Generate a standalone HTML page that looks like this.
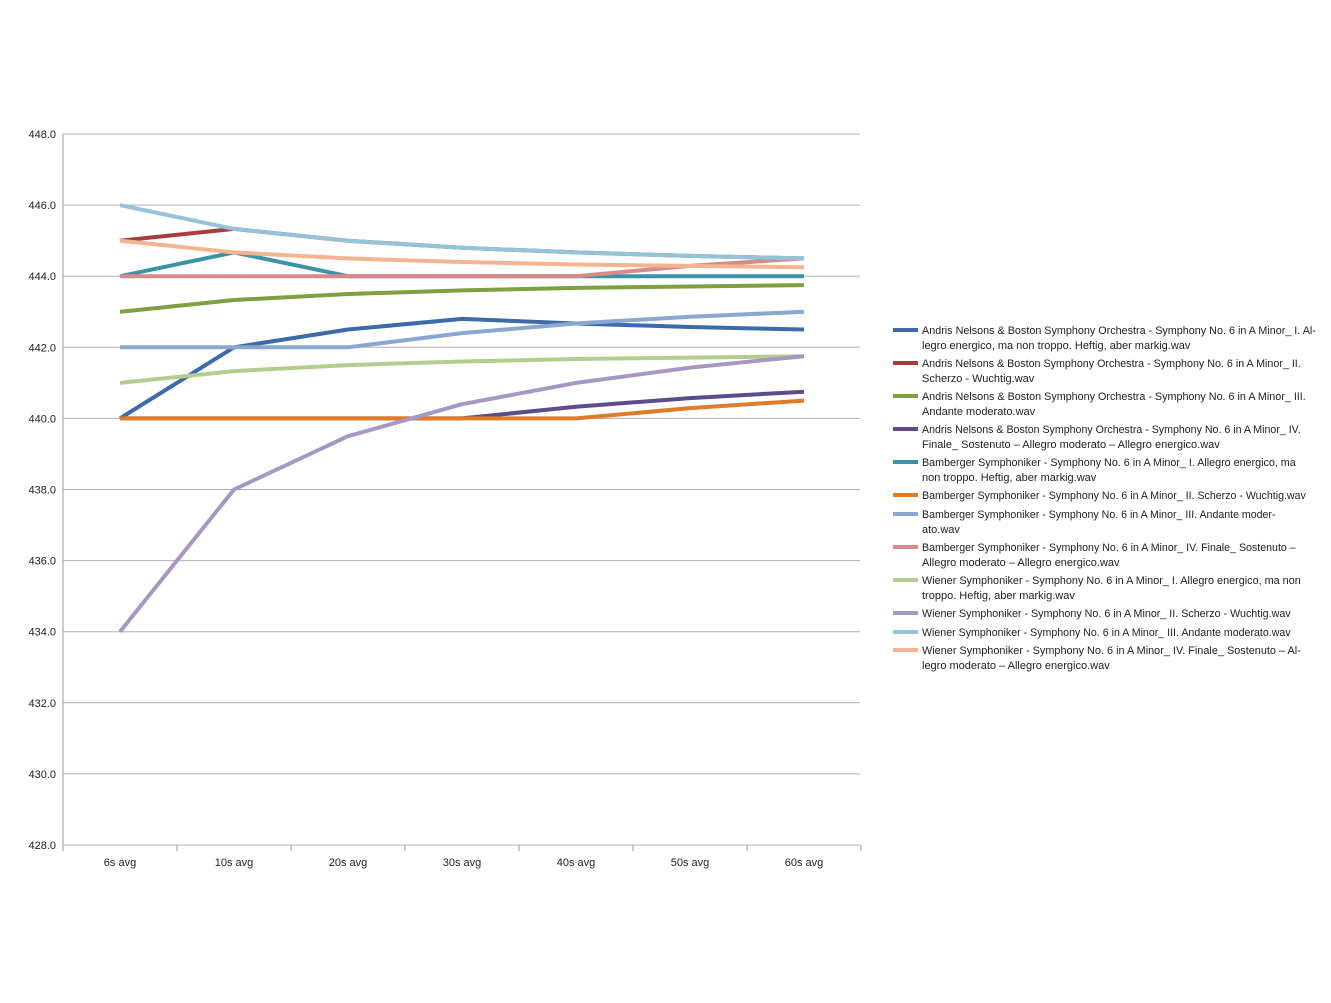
<!DOCTYPE html>
<html><head><meta charset="utf-8"><style>
html,body{margin:0;padding:0;background:#fff;}
svg text{font-family:"Liberation Sans Narrow","Liberation Sans",sans-serif;fill:#222;}
</style></head><body>
<svg id="c" width="1331" height="998" xmlns="http://www.w3.org/2000/svg">
<rect width="1331" height="998" fill="#fff"/>
</svg>
<script>
const svg=document.getElementById('c');const NS='http://www.w3.org/2000/svg';
function el(t,a,txt){const e=document.createElementNS(NS,t);for(const k in a)e.setAttribute(k,a[k]);if(txt!==undefined)e.textContent=txt;svg.appendChild(e);return e;}
const Y=v=>845-(v-428)*35.55;
const X=[120,234,348,462,576,690,804];
for(let v=428;v<=448;v+=2){el('line',{x1:63,x2:860,y1:Y(v),y2:Y(v),stroke:'#b0b0b0','stroke-width':1});
el('text',{x:56,y:Y(v)+4,'text-anchor':'end','font-size':11},v.toFixed(1));}
el('line',{x1:63,x2:63,y1:134,y2:845,stroke:'#999'});
const xl=['6s avg','10s avg','20s avg','30s avg','40s avg','50s avg','60s avg'];
for(let i=0;i<=7;i++){el('line',{x1:63+i*114,x2:63+i*114,y1:845,y2:851,stroke:'#999'});}
xl.forEach((t,i)=>el('text',{x:X[i],y:866,'text-anchor':'middle','font-size':11},t));
const S=[
['#3d6aa8',[440,442,442.5,442.8,442.67,442.57,442.5],['Andris Nelsons & Boston Symphony Orchestra - Symphony No. 6 in A Minor_ I. Al-','legro energico, ma non troppo. Heftig, aber markig.wav']],
['#a83c3a',[445,445.33,445,444.8,444.67,444.57,444.5],['Andris Nelsons & Boston Symphony Orchestra - Symphony No. 6 in A Minor_ II.','Scherzo - Wuchtig.wav']],
['#7fa03f',[443,443.33,443.5,443.6,443.67,443.71,443.75],['Andris Nelsons & Boston Symphony Orchestra - Symphony No. 6 in A Minor_ III.','Andante moderato.wav']],
['#5f4a8b',[440,440,440,440,440.33,440.57,440.75],['Andris Nelsons & Boston Symphony Orchestra - Symphony No. 6 in A Minor_ IV.','Finale_ Sostenuto – Allegro moderato – Allegro energico.wav']],
['#3a93a6',[444,444.67,444,444,444,444,444],['Bamberger Symphoniker - Symphony No. 6 in A Minor_ I. Allegro energico, ma','non troppo. Heftig, aber markig.wav']],
['#e07b2a',[440,440,440,440,440,440.29,440.5],['Bamberger Symphoniker - Symphony No. 6 in A Minor_ II. Scherzo - Wuchtig.wav']],
['#8aa7d2',[442,442,442,442.4,442.67,442.86,443],['Bamberger Symphoniker - Symphony No. 6 in A Minor_ III. Andante moder-','ato.wav']],
['#d48b8a',[444,444,444,444,444,444.29,444.5],['Bamberger Symphoniker - Symphony No. 6 in A Minor_ IV. Finale_ Sostenuto –','Allegro moderato – Allegro energico.wav']],
['#b3cd8e',[441,441.33,441.5,441.6,441.67,441.71,441.75],['Wiener Symphoniker - Symphony No. 6 in A Minor_ I. Allegro energico, ma non','troppo. Heftig, aber markig.wav']],
['#a897c4',[434,438,439.5,440.4,441,441.43,441.75],['Wiener Symphoniker - Symphony No. 6 in A Minor_ II. Scherzo - Wuchtig.wav']],
['#94c4da',[446,445.33,445,444.8,444.67,444.57,444.5],['Wiener Symphoniker - Symphony No. 6 in A Minor_ III. Andante moderato.wav']],
['#f4b491',[445,444.67,444.5,444.4,444.33,444.29,444.25],['Wiener Symphoniker - Symphony No. 6 in A Minor_ IV. Finale_ Sostenuto – Al-','legro moderato – Allegro energico.wav']]
];
const LY=[330,363,396,429,462,495,514,547,580,613,632,650];
S.forEach((s,i)=>{
 el('polyline',{points:s[1].map((v,j)=>X[j]+','+Y(v).toFixed(1)).join(' '),fill:'none',stroke:s[0],'stroke-width':4,'stroke-linejoin':'round'});
 el('line',{x1:893,x2:918,y1:LY[i],y2:LY[i],stroke:s[0],'stroke-width':4});
 s[2].forEach((t,k)=>{const a={x:922,y:LY[i]+4+k*15,'font-size':11};
  if(s[2].length>1&&k==0||t.length>70){a.textLength=Math.min(400,t.length*5.05);a.lengthAdjust='spacingAndGlyphs';}
  el('text',a,t);});
});
</script>
</body></html>
